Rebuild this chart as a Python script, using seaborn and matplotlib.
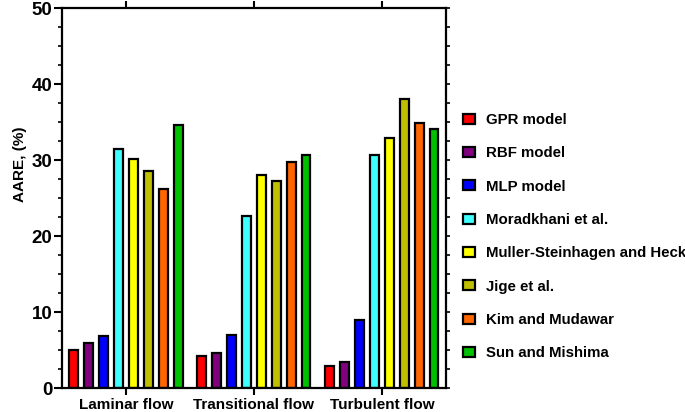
import pandas as pd
import matplotlib.pyplot as plt
import seaborn as sns
from matplotlib.ticker import MultipleLocator

# data
flows = ["Laminar flow", "Transitional flow", "Turbulent flow"]
models = ["GPR model", "RBF model", "MLP model", "Moradkhani et al.",
          "Muller-Steinhagen and Heck", "Jige et al.", "Kim and Mudawar",
          "Sun and Mishima"]
laminar = [5.0, 6.0, 6.8, 31.5, 30.2, 28.6, 26.2, 34.6]
transitional = [4.25, 4.6, 7.0, 22.6, 28.0, 27.3, 29.7, 30.7]
turbulent = [2.95, 3.4, 9.0, 30.7, 32.9, 38.0, 34.9, 34.1]
colors = ["#FF0000", "#800080", "#0000FF", "#40FFFF",
          "#FFFF00", "#BFBF00", "#FF6600", "#00C000"]

# long format table
rows = []
for flow, vals in zip(flows, [laminar, transitional, turbulent]):
    for m, v in zip(models, vals):
        rows.append({"Flow": flow, "Model": m, "AARE": v})
df = pd.DataFrame(rows)

sns.set_style("ticks")
plt.rcParams["font.family"] = ["Liberation Sans", "DejaVu Sans"]
plt.rcParams["font.weight"] = "bold"
for key in ["text.color", "axes.labelcolor", "xtick.color", "ytick.color"]:
    plt.rcParams[key] = "black"

fig = plt.figure(figsize=(6.85, 4.12), dpi=100)
ax = fig.add_axes([0.0905, 0.058, 0.5605, 0.922])

sns.barplot(data=df, x="Flow", y="AARE", hue="Model", order=flows,
            hue_order=models, palette=colors, saturation=1, width=0.93,
            gap=0.4, edgecolor="black", linewidth=1.6, ax=ax)

ax.set_xlim(-0.5, 2.5)
ax.set_ylim(0, 50)
ax.yaxis.set_major_locator(MultipleLocator(10))
ax.yaxis.set_minor_locator(MultipleLocator(2.5))
ax.set_xlabel("")
ax.set_ylabel("AARE, (%)", fontsize=11, fontweight="bold")
ax.yaxis.set_label_coords(-0.09, 0.59)

for s in ax.spines.values():
    s.set_linewidth(1.6)
    s.set_color("black")

ax.tick_params(axis="y", which="major", length=6, width=1.5,
               labelsize=13.5, pad=1)
ax.tick_params(axis="y", which="minor", length=3, width=1.2)
ax.tick_params(axis="x", which="major", length=5, width=1.5,
               labelsize=11, top=True, pad=2)
for lab in ax.get_xticklabels() + ax.get_yticklabels():
    lab.set_fontweight("bold")

# minor ticks on the right spine
ax2 = ax.secondary_yaxis("right")
ax2.yaxis.set_major_locator(MultipleLocator(2.5))
ax2.tick_params(length=3, width=1.2, labelright=False)
ax2.spines["right"].set_visible(False)

handles, labels = ax.get_legend_handles_labels()
ax.legend(handles, labels, loc="upper left",
          bbox_to_anchor=(0.676, 0.726), bbox_transform=fig.transFigure,
          frameon=False, handlelength=0.8, handleheight=0.65,
          handletextpad=0.75, labelspacing=1.29, borderaxespad=0,
          borderpad=0, prop={"weight": "bold", "size": 10.8})

fig.savefig("out.png", dpi=100)
